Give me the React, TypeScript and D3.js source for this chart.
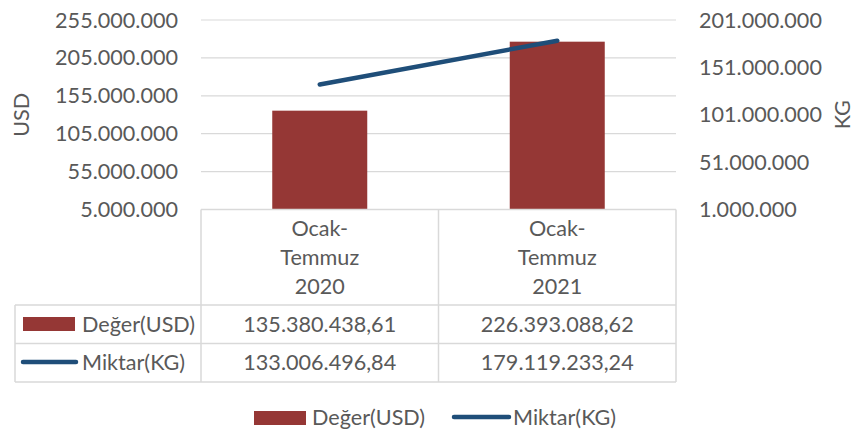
import React from 'react';
import * as d3 from 'd3';

const categories = [['Ocak-', 'Temmuz', '2020'], ['Ocak-', 'Temmuz', '2021']];
const degerUSD = [135380438.61, 226393088.62];
const miktarKG = [133006496.84, 179119233.24];
const leftTicks = [5e6, 55e6, 105e6, 155e6, 205e6, 255e6];
const rightTicks = [1e6, 51e6, 101e6, 151e6, 201e6];
const seriesNames = ['Değer(USD)', 'Miktar(KG)'];

const BAR = '#953735';
const LINE = '#1f4e79';
const GRID = '#d9d9d9';
const TEXT = '#595959';
const FONT = 'Lato, "Open Sans", sans-serif';
const FS = 21.6;

const tr = d3.formatLocale({ decimal: ',', thousands: '.', grouping: [3], currency: ['', ''] });
const fmtTick = tr.format(',.0f');
const fmtVal = tr.format(',.2f');

export default function App() {
  const width = 855;
  const height = 429;
  const plot = { left: 201, right: 676, top: 20, bottom: 209.5 };

  const x = d3
    .scaleBand<number>()
    .domain(categories.map((_, i) => i))
    .range([plot.left, plot.right])
    .padding(0);
  const barW = x.bandwidth() * 0.4;
  const cx = (i: number) => x(i)! + x.bandwidth() / 2;

  const yL = d3.scaleLinear().domain([5e6, 255e6]).range([plot.bottom, plot.top]);
  const yR = d3.scaleLinear().domain([1e6, 201e6]).range([plot.bottom, plot.top]);

  const line = d3
    .line<number>()
    .x((_, i) => cx(i))
    .y((d) => yR(d));

  // data table rows
  const rowTop = 305;
  const rowH = 38.5;
  const tableLeft = 15;

  return (
    <svg
      width={width}
      height={height}
      style={{ position: 'absolute', left: 0, top: 0, background: '#fff' }}
      fontFamily={FONT}
    >
      {/* gridlines */}
      {leftTicks.map((t) => (
        <line key={t} x1={plot.left} x2={plot.right} y1={yL(t)} y2={yL(t)} stroke={GRID} strokeWidth={1.2} />
      ))}

      {/* left axis labels */}
      {leftTicks.map((t) => (
        <text key={t} x={178} y={yL(t)} dy="0.35em" textAnchor="end" fontSize={FS} fill={TEXT}>
          {fmtTick(t)}
        </text>
      ))}
      {/* right axis labels */}
      {rightTicks.map((t) => (
        <text key={t} x={699} y={yR(t)} dy="0.35em" textAnchor="start" fontSize={FS} fill={TEXT}>
          {fmtTick(t)}
        </text>
      ))}

      <text transform={`translate(21,${(plot.top + plot.bottom) / 2}) rotate(-90)`} dy="0.35em" textAnchor="middle" fontSize={FS} fill={TEXT}>
        USD
      </text>
      <text transform={`translate(842,${(plot.top + plot.bottom) / 2}) rotate(-90)`} dy="0.35em" textAnchor="middle" fontSize={FS} fill={TEXT}>
        KG
      </text>

      {/* bars */}
      {degerUSD.map((v, i) => (
        <rect key={i} x={cx(i) - barW / 2} y={yL(v)} width={barW} height={plot.bottom - yL(v)} fill={BAR} />
      ))}

      {/* line */}
      <path d={line(miktarKG) || ''} fill="none" stroke={LINE} strokeWidth={4.5} strokeLinecap="round" />

      {/* data table */}
      <g stroke={GRID} strokeWidth={1.5}>
        <line x1={plot.left} x2={plot.right} y1={plot.bottom} y2={plot.bottom} />
        <line x1={tableLeft} x2={plot.right} y1={rowTop} y2={rowTop} />
        <line x1={tableLeft} x2={plot.right} y1={rowTop + rowH} y2={rowTop + rowH} />
        <line x1={tableLeft} x2={plot.right} y1={rowTop + 2 * rowH} y2={rowTop + 2 * rowH} />
        <line x1={tableLeft} x2={tableLeft} y1={rowTop} y2={rowTop + 2 * rowH} />
        {categories.map((_, i) => (
          <line key={i} x1={x(i)!} x2={x(i)!} y1={plot.bottom} y2={rowTop + 2 * rowH} />
        ))}
        <line x1={plot.right} x2={plot.right} y1={plot.bottom} y2={rowTop + 2 * rowH} />
      </g>

      {/* category labels */}
      {categories.map((lines, i) =>
        lines.map((s, j) => (
          <text key={`${i}-${j}`} x={cx(i)} y={228 + j * 29} dy="0.35em" textAnchor="middle" fontSize={FS} fill={TEXT}>
            {s}
          </text>
        ))
      )}

      {/* table values */}
      {[degerUSD, miktarKG].map((arr, r) =>
        arr.map((v, i) => (
          <text key={`${r}-${i}`} x={cx(i)} y={rowTop + rowH * (r + 0.5)} dy="0.35em" textAnchor="middle" fontSize={FS} fill={TEXT}>
            {fmtVal(v)}
          </text>
        ))
      )}

      {/* table legend keys */}
      <rect x={23} y={317} width={52} height={14} fill={BAR} />
      <text x={82} y={rowTop + rowH * 0.5} dy="0.35em" fontSize={FS} fill={TEXT}>
        {seriesNames[0]}
      </text>
      <line x1={23} x2={76} y1={362} y2={362} stroke={LINE} strokeWidth={4.5} strokeLinecap="round" />
      <text x={82} y={rowTop + rowH * 1.5} dy="0.35em" fontSize={FS} fill={TEXT}>
        {seriesNames[1]}
      </text>

      {/* bottom legend */}
      <rect x={254} y={411} width={52} height={14} fill={BAR} />
      <text x={312} y={417} dy="0.35em" fontSize={FS} fill={TEXT}>
        {seriesNames[0]}
      </text>
      <line x1={454} x2={509} y1={417} y2={417} stroke={LINE} strokeWidth={4.5} strokeLinecap="round" />
      <text x={513} y={417} dy="0.35em" fontSize={FS} fill={TEXT}>
        {seriesNames[1]}
      </text>
    </svg>
  );
}
